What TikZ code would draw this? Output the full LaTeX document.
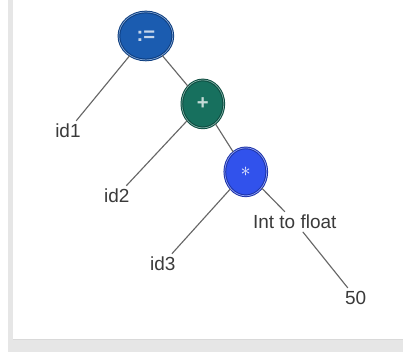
\documentclass[tikz,border=0pt]{standalone}
\usepackage{fontspec}
\setmainfont{Liberation Sans}
\usepackage{xcolor}
\usepackage{tikz}
\usetikzlibrary{shapes.geometric}
\definecolor{opblue}{HTML}{1B5CB0}
\definecolor{opblueDk}{HTML}{0C3C7E}
\definecolor{opteal}{HTML}{17705E}
\definecolor{optealDk}{HTML}{0B4A3E}
\definecolor{opbright}{HTML}{3152EC}
\definecolor{opbrightDk}{HTML}{1C33A8}
\definecolor{leafgray}{HTML}{3A3A3A}
\definecolor{framegray}{HTML}{E6E6E6}
\tikzset{
  opnode/.style={ellipse, draw=#1Dk, fill=#1, line width=0.7pt,
    double=white!45!#1, double distance=0.5pt, inner sep=0pt,
    minimum width=1.05cm, minimum height=1.2cm, text=white!75!#1, font=\bfseries\Large},
  leaf/.style={font=\fontsize{13.5}{16}\selectfont, text=leafgray, inner sep=2pt},
  branch/.style={draw=gray!80!black, line width=0.8pt},
}

\begin{document}
\begin{tikzpicture}
% window frame
\fill[white] (0,0) rectangle (10.075,8.8);
\fill[framegray] (0.2,0.3) rectangle (0.32,8.8);
\fill[framegray] (0.2,0) rectangle (10.075,0.3);
\draw[gray!30, line width=0.5pt] (0.32,0.3) -- (10.075,0.3);
\useasboundingbox (0,0) rectangle (10.075,8.8);
% operator nodes
\node[opnode=opblue, minimum width=1.35cm] (assign) at (3.65,7.9) {:=};
\node[opnode=opteal] (plus) at (5.075,6.2) {+};
\node[opnode=opbright, text=white!90!opbright, font=\Large] (mul) at (6.15,4.5) {$\ast$};
% leaves
\node[leaf] (id1) at (1.7,5.525) {id1};
\node[leaf] (id2) at (2.925,3.9) {id2};
\node[leaf] (id3) at (4.075,2.2) {id3};
\node[leaf] (conv) at (7.375,3.25) {Int to float};
\node[leaf] (fifty) at (8.9,1.35) {50};
% edges
\draw[branch] (assign) -- (id1);
\draw[branch] (assign) -- (plus);
\draw[branch] (plus) -- (id2);
\draw[branch] (plus) -- (mul);
\draw[branch] (mul) -- (id3);
\draw[branch] (mul) -- (conv);
\draw[branch] (conv) -- (fifty);
\end{tikzpicture}
\end{document}
